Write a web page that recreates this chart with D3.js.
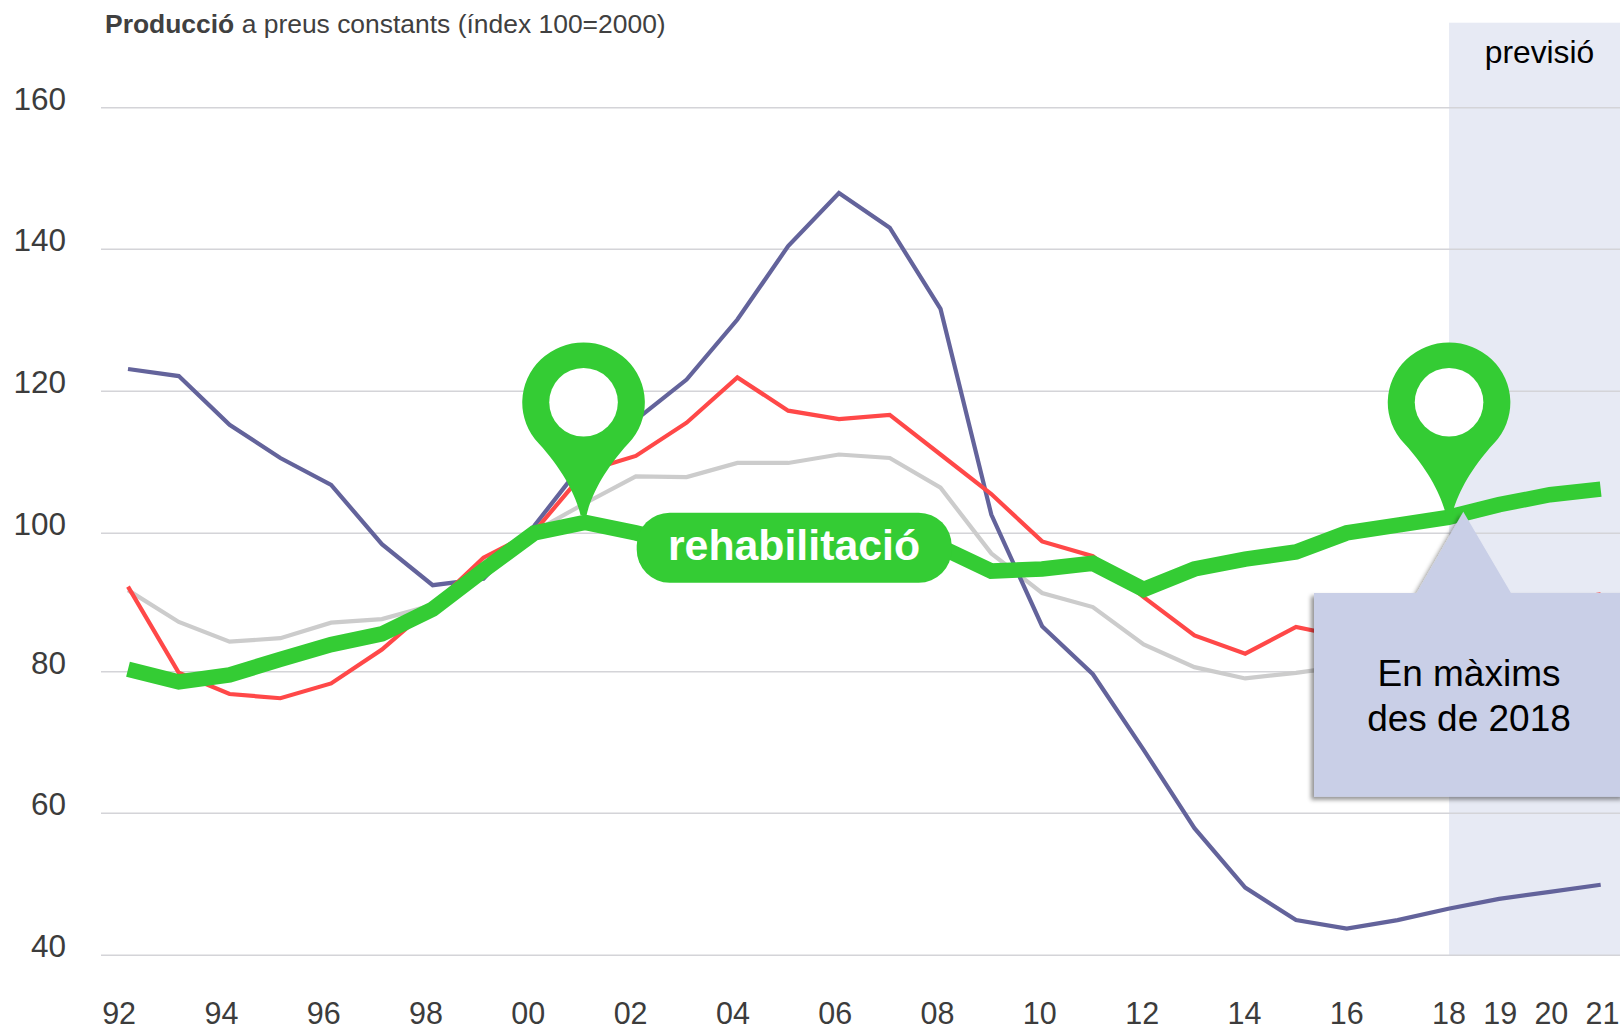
<!DOCTYPE html>
<html><head><meta charset="utf-8">
<style>html,body{margin:0;padding:0;background:#fff}svg{display:block}text{font-family:"Liberation Sans",Arial,sans-serif}</style>
<script src="https://cdn.jsdelivr.net/npm/d3@7"></script>
</head><body><svg id="c" width="1620" height="1031"></svg>
<script>
const years = d3.range(1992, 2022);
const xTickYears = [1992,1994,1996,1998,2000,2002,2004,2006,2008,2010,2012,2014,2016,2018,2019,2020,2021];
const yTicks = [40,60,80,100,120,140,160];
const obraNova = [123,122,115.1,110.4,106.6,98.2,92.4,93.3,100.8,110,115.8,121.5,130,140.4,147.9,143,131.5,102.4,86.6,79.8,69.1,58,49.6,45,43.8,45,46.6,48,49,50];
const edificacio = [92.2,80,77,76.4,78.5,83.3,89.5,96.3,100,108.5,110.7,115.4,121.8,117.1,115.9,116.5,110.9,105.3,98.6,96.5,90.7,85.3,82.7,86.5,85,86.5,88,89,90,91.1];
const enginyeria = [91.7,87.2,84.4,84.9,87.1,87.6,89.6,95,100,104,107.8,107.7,109.7,109.7,110.9,110.4,106.2,96.9,91.3,89.3,84,80.8,79.2,80,81,82,83,84,85,86];
const rehabilitacio = [80.5,78.7,79.7,81.9,84,85.5,89,94.5,99.8,101.3,99.8,98,98.5,99,99,98.8,97.8,94.4,94.7,95.5,91.8,94.7,96.1,97.1,99.8,100.9,102,103.8,105.2,106];
const pinYears = [2001,2018];
const forecastStart = 2018;

const svg = d3.select("#c");
const x = d3.scaleLinear().domain([1992,2021]).range([128,1600.7]);
const xLabels = d3.scaleLinear().domain([1992,2021]).range([118.6,1602]);
const y = d3.scaleLinear().domain([40,160]).range([955.4,107.6]);
const yGrid = d3.scaleLinear().domain(yTicks).range([955.3,813.3,671.7,533.3,391.3,249.3,107.7]);

const defs = svg.append("defs");
const f = defs.append("filter").attr("id","shadow").attr("x","-5%").attr("y","-5%").attr("width","110%").attr("height","110%");
f.append("feDropShadow").attr("dx",-3).attr("dy",3).attr("stdDeviation",2.2).attr("flood-color","#000").attr("flood-opacity",0.42);

const bandX = x(forecastStart)+0.7;
svg.append("rect").attr("x",bandX).attr("y",22.7).attr("width",1620-bandX).attr("height",yGrid(40)-22.7).attr("fill","#E7EAF4");

svg.append("g").selectAll("line").data(yTicks).join("line")
  .attr("x1",101).attr("x2",1620).attr("y1",d=>yGrid(d)).attr("y2",d=>yGrid(d))
  .attr("stroke","#D4D4D8").attr("stroke-width",1.5);

const yAxis = d3.axisLeft(yGrid).tickValues(yTicks).tickSize(0).tickPadding(0);
const gy = svg.append("g").attr("transform","translate(66,0)").call(yAxis);
gy.select(".domain").remove();
gy.selectAll("text").attr("font-size",31.5).attr("fill","#3c3c3c").attr("dy",0).attr("y",1.5).attr("text-anchor","end")
  .style("font-family",'"Liberation Sans"');

const xAxis = d3.axisBottom(xLabels).tickValues(xTickYears).tickSize(0).tickFormat(d=>String(d%100).padStart(2,"0"));
const gx = svg.append("g").attr("transform","translate(0,1024.4)").call(xAxis);
gx.select(".domain").remove();
gx.selectAll("text").attr("font-size",30.5).attr("fill","#3c3c3c").attr("y",0).attr("dy",0)
  .style("font-family",'"Liberation Sans"');

const line = d3.line().x((d,i)=>x(years[i])).y(d=>y(d));
const series = [
  {v:enginyeria,c:"#CCCCCC",w:4.2},
  {v:obraNova,c:"#63639B",w:4.2},
  {v:edificacio,c:"#FF4848",w:4.2},
  {v:rehabilitacio,c:"#34CC34",w:15.5}
];
svg.append("g").selectAll("path").data(series).join("path")
  .attr("d",d=>line(d.v)).attr("fill","none").attr("stroke",d=>d.c).attr("stroke-width",d=>d.w)
  .attr("stroke-linejoin","miter");

// pins
const pinPath = "M-3,113 C-7,95 -20,68 -45,41 A61.3,60 0 1 1 45,41 C20,68 7,95 3,113 Z";
const pins = svg.append("g").selectAll("g").data(pinYears).join("g")
  .attr("transform",d=>`translate(${x(d)+(d===2001?-1.5:0.7)},402.3)`);
pins.append("path").attr("d",pinPath).attr("fill","#34CC34");
pins.append("circle").attr("r",34.3).attr("fill","#fff");

// series label
svg.append("rect").attr("x",636.7).attr("y",512.7).attr("width",315).attr("height",70).attr("rx",33).attr("ry",33).attr("fill","#34CC34");
svg.append("text").attr("x",794).attr("y",560).attr("text-anchor","middle").attr("font-size",42.8).attr("font-weight","bold").attr("fill","#fff").text("rehabilitació");

// callout
svg.append("path").attr("d","M1314,593 L1416.7,593 L1463.3,511.7 L1511,593 L1625,593 L1625,796.7 L1314,796.7 Z")
  .attr("fill","#C9CFE7").attr("filter","url(#shadow)");
svg.append("text").attr("x",1469).attr("y",686).attr("text-anchor","middle").attr("font-size",37).attr("fill","#000").text("En màxims");
svg.append("text").attr("x",1469).attr("y",731).attr("text-anchor","middle").attr("font-size",37).attr("fill","#000").text("des de 2018");

svg.append("text").attr("x",1539.5).attr("y",63).attr("text-anchor","middle").attr("font-size",31.8).attr("fill","#000").text("previsió");

const t = svg.append("text").attr("x",105).attr("y",33).attr("font-size",26.45).attr("fill","#404040");
t.append("tspan").attr("font-weight","bold").text("Producció");
t.append("tspan").text(" a preus constants (índex 100=2000)");
</script></body></html>
